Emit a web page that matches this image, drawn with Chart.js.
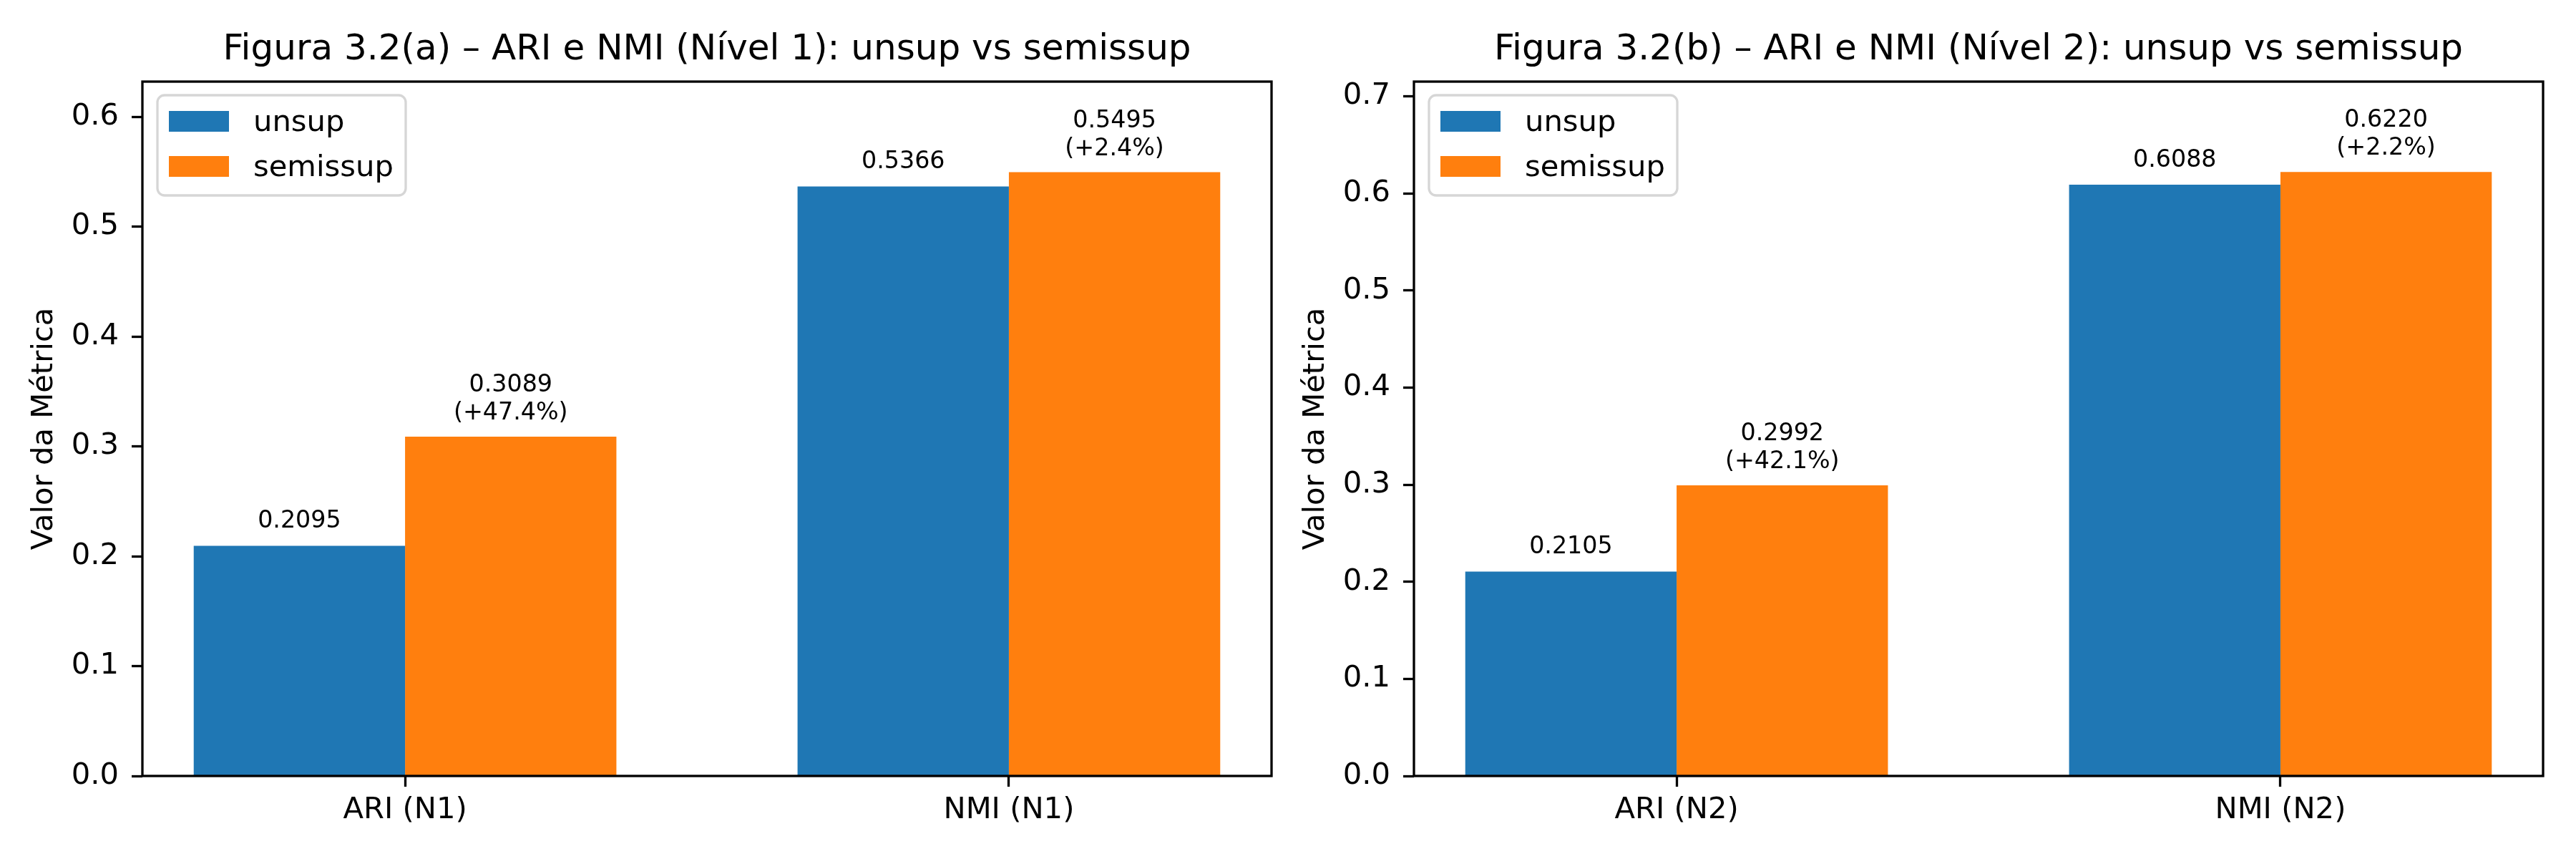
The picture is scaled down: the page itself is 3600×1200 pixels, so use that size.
<!DOCTYPE html>
<html>
<head>
<meta charset="utf-8">
<script src="https://cdn.jsdelivr.net/npm/chart.js@4.4.0/dist/chart.umd.min.js"></script>
<style>
  html, body { margin: 0; padding: 0; background: #ffffff; }
  body { width: 3600px; height: 1200px; position: relative; overflow: hidden; }
  canvas { position: absolute; top: 0; }
  #chartA { left: 0px; }
  #chartB { left: 1777px; }
</style>
</head>
<body>
<canvas id="chartA" width="1800" height="1200"></canvas>
<canvas id="chartB" width="1800" height="1200"></canvas>
<script>
// Figura 3.2 - ARI / NMI, unsup vs semissup
const seriesNames = ['unsup', 'semissup'];
const seriesColors = ['#1f77b4', '#ff7f0e'];

// (a) Nível 1
const titleA = 'Figura 3.2(a) – ARI e NMI (Nível 1): unsup vs semissup';
const categoriesA = ['ARI (N1)', 'NMI (N1)'];
const unsupA = [0.2095, 0.5366];
const semiA = [0.3089, 0.5495];
const gainA = ['+47.4%', '+2.4%'];
const yTicksA = [0.0, 0.1, 0.2, 0.3, 0.4, 0.5, 0.6];
const yMaxA = 0.632;

// (b) Nível 2
const titleB = 'Figura 3.2(b) – ARI e NMI (Nível 2): unsup vs semissup';
const categoriesB = ['ARI (N2)', 'NMI (N2)'];
const unsupB = [0.2105, 0.6088];
const semiB = [0.2992, 0.6220];
const gainB = ['+42.1%', '+2.2%'];
const yTicksB = [0.0, 0.1, 0.2, 0.3, 0.4, 0.5, 0.6, 0.7];
const yMaxB = 0.715;

const xLimits = [-0.435, 1.435];
const yLabel = 'Valor da Métrica';

Chart.defaults.font.family = '"DejaVu Sans", sans-serif';
Chart.defaults.color = '#000000';

// axes frame (all four spines)
const framePlugin = {
  id: 'frame',
  afterDatasetsDraw(chart) {
    const { ctx, chartArea: a } = chart;
    ctx.save();
    ctx.strokeStyle = '#000000';
    ctx.lineWidth = 3.3;
    ctx.strokeRect(a.left, a.top, a.right - a.left, a.bottom - a.top);
    ctx.restore();
  }
};

// value labels above bars
const labelPlugin = {
  id: 'barLabels',
  afterDatasetsDraw(chart, args, opts) {
    const ctx = chart.ctx;
    ctx.save();
    ctx.fillStyle = '#000000';
    ctx.font = '33.3px "DejaVu Sans"';
    ctx.textAlign = 'center';
    ctx.textBaseline = 'alphabetic';
    chart.data.datasets.forEach((ds, di) => {
      const meta = chart.getDatasetMeta(di);
      meta.data.forEach((bar, i) => {
        const val = ds.data[i].y.toFixed(4);
        if (di === 0) {
          ctx.fillText(val, bar.x, bar.y - 25);
        } else {
          ctx.fillText('(' + opts.gains[i] + ')', bar.x, bar.y - 24);
          ctx.fillText(val, bar.x, bar.y - 63);
        }
      });
    });
    ctx.restore();
  }
};

// legend box in the upper left of the plot
const legendPlugin = {
  id: 'boxLegend',
  afterDraw(chart) {
    const { ctx, chartArea: a } = chart;
    const x = a.left + 21, y = a.top + 19, w = 347, h = 140, r = 10;
    ctx.save();
    ctx.beginPath();
    ctx.roundRect(x, y, w, h, r);
    ctx.fillStyle = 'rgba(255,255,255,0.8)';
    ctx.fill();
    ctx.lineWidth = 3.3;
    ctx.strokeStyle = '#d6d6d6';
    ctx.stroke();
    ctx.font = '41.7px "DejaVu Sans"';
    ctx.textAlign = 'left';
    ctx.textBaseline = 'alphabetic';
    chart.data.datasets.forEach((ds, i) => {
      const rowY = a.top + 41 + i * 63;
      ctx.fillStyle = ds.backgroundColor;
      ctx.fillRect(a.left + 37, rowY, 84, 29);
      ctx.fillStyle = '#000000';
      ctx.fillText(ds.label, a.left + 155, rowY + 28);
    });
    ctx.restore();
  }
};

function makeChart(id, title, cats, unsup, semi, gains, yTicks, yMax) {
  const ctx = document.getElementById(id).getContext('2d');
  const values = [unsup, semi];
  return new Chart(ctx, {
    type: 'bar',
    data: {
      datasets: seriesNames.map((name, si) => ({
        label: name,
        data: values[si].map((v, i) => ({ x: i, y: v })),
        backgroundColor: seriesColors[si],
        borderWidth: 0,
        categoryPercentage: 0.7,
        barPercentage: 1.0
      }))
    },
    options: {
      responsive: false,
      animation: false,
      events: [],
      layout: { padding: { left: 0, right: 23, top: 0, bottom: 0 } },
      plugins: {
        legend: { display: false },
        tooltip: { enabled: false },
        title: {
          display: true,
          text: title,
          fullSize: false,
          color: '#000000',
          font: { size: 50, weight: 'normal' },
          padding: { top: 40, bottom: 14 }
        },
        barLabels: { gains: gains }
      },
      scales: {
        x: {
          type: 'linear',
          min: xLimits[0],
          max: xLimits[1],
          offset: false,
          border: { display: false },
          grid: {
            offset: false,
            drawOnChartArea: false,
            drawTicks: true,
            tickLength: 15,
            tickWidth: 3.3,
            tickColor: '#000000'
          },
          ticks: {
            color: '#000000',
            font: { size: 41.7 },
            padding: 8,
            maxRotation: 0,
            autoSkip: false,
            callback: v => cats[v]
          },
          afterBuildTicks: s => { s.ticks = cats.map((c, i) => ({ value: i })); },
          afterFit: s => { s.height = 116; }
        },
        y: {
          min: 0,
          max: yMax,
          border: { display: false },
          grid: {
            drawOnChartArea: false,
            drawTicks: true,
            tickLength: 15,
            tickWidth: 3.3,
            tickColor: '#000000'
          },
          ticks: {
            color: '#000000',
            font: { size: 41.7 },
            padding: 18,
            includeBounds: false,
            callback: v => v.toFixed(1)
          },
          title: {
            display: true,
            text: yLabel,
            color: '#000000',
            font: { size: 41.7 },
            padding: { top: 37, bottom: 0 }
          },
          afterBuildTicks: s => { s.ticks = yTicks.map(v => ({ value: v })); },
          afterFit: s => { s.width = 199; }
        }
      }
    },
    plugins: [framePlugin, labelPlugin, legendPlugin]
  });
}

makeChart('chartA', titleA, categoriesA, unsupA, semiA, gainA, yTicksA, yMaxA);
makeChart('chartB', titleB, categoriesB, unsupB, semiB, gainB, yTicksB, yMaxB);
</script>
</body>
</html>
